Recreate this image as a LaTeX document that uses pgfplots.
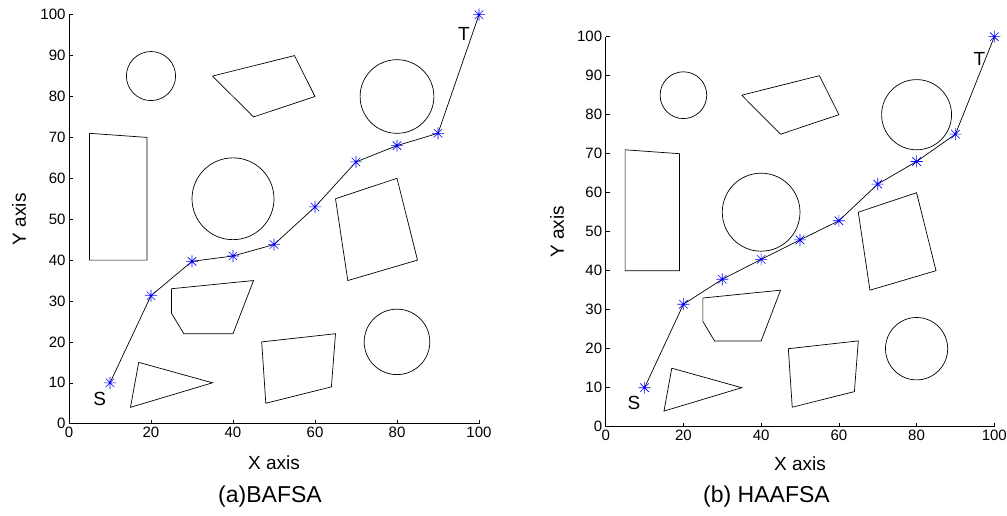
\documentclass[border=0pt]{standalone}
\usepackage{fontspec}
\setmainfont{Liberation Sans}
\usepackage{pgfplots}
\pgfplotsset{compat=1.18}
\pgfdeclareplotmark{mstar}{%
  \pgfpathmoveto{\pgfqpoint{-\pgfplotmarksize}{0pt}}%
  \pgfpathlineto{\pgfqpoint{\pgfplotmarksize}{0pt}}%
  \pgfpathmoveto{\pgfqpoint{0pt}{-\pgfplotmarksize}}%
  \pgfpathlineto{\pgfqpoint{0pt}{\pgfplotmarksize}}%
  \pgfpathmoveto{\pgfqpoint{-0.707\pgfplotmarksize}{-0.707\pgfplotmarksize}}%
  \pgfpathlineto{\pgfqpoint{0.707\pgfplotmarksize}{0.707\pgfplotmarksize}}%
  \pgfpathmoveto{\pgfqpoint{-0.707\pgfplotmarksize}{0.707\pgfplotmarksize}}%
  \pgfpathlineto{\pgfqpoint{0.707\pgfplotmarksize}{-0.707\pgfplotmarksize}}%
  \pgfusepathqstroke}
\pgfplotsset{
  mapax/.style={
    scale only axis,
    xmin=0, xmax=100, ymin=0, ymax=100,
    axis x line=bottom, axis y line=left,
    axis line style={-, line width=0.8pt},
    tick align=inside,
    major tick length=4pt,
    tick style={line width=0.6pt, black},
    xtick={0,20,...,100}, ytick={0,10,...,100},
    /pgf/number format/assume math mode=true,
    ticklabel style={font=\fontsize{15}{17}\selectfont},
    label style={font=\fontsize{19}{22}\selectfont},
    xlabel={X axis}, ylabel={Y axis},
    clip=false,
  },
  obst/.style={black, line width=0.7pt, no markers},
  pathst/.style={black, line width=0.7pt, mark=mstar, mark options={blue, mark size=6pt, line width=0.6pt}},
}
\newcommand{\obstacles}{%
  \addplot[obst] coordinates {(35,85) (55,90) (60,80) (45,75) (35,85)};
  \addplot[obst] coordinates {(5,71) (19,70) (19,40) (5,40) (5,71)};
  \addplot[obst] coordinates {(65,55) (80,60) (85,40) (68,35) (65,55)};
  \addplot[obst] coordinates {(25,33) (45,35) (40,22) (28,22) (25,27) (25,33)};
  \addplot[obst] coordinates {(47,20) (65,22) (64,9) (48,5) (47,20)};
  \addplot[obst] coordinates {(17,15) (35,10) (15,4) (17,15)};
  \draw[line width=0.7pt] (axis cs:20,85) circle[radius=6];
  \draw[line width=0.7pt] (axis cs:80,80) circle[radius=9];
  \draw[line width=0.7pt] (axis cs:40,55) circle[radius=10];
  \draw[line width=0.7pt] (axis cs:80,20) circle[radius=8];
}
\begin{document}
\begin{tikzpicture}[x=1pt,y=1pt]
\path[use as bounding box] (0,0) rectangle (1007,515);
\begin{axis}[mapax, width=410pt, height=409pt, at={(69pt,91.3pt)}, anchor=south west,
  xlabel style={at={(axis description cs:0.5,-0.096)}, anchor=center},
  ylabel style={at={(axis description cs:-0.122,0.5)}, anchor=center}]
\obstacles
\addplot[pathst] coordinates {(10,10) (20,31.3) (30,39.7) (40,41) (50,43.8) (60,53) (70,64) (80,68) (90,71) (100,100)};
\node[font=\fontsize{19}{22}\selectfont] at (axis cs:7.5,6) {S};
\node[font=\fontsize{19}{22}\selectfont] at (axis cs:96.3,95.3) {T};
\end{axis}
\begin{axis}[mapax, width=388.6pt, height=390pt, at={(605.7pt,88.3pt)}, anchor=south west,
  xlabel style={at={(axis description cs:0.5,-0.094)}, anchor=center},
  ylabel style={at={(axis description cs:-0.125,0.5)}, anchor=center}]
\obstacles
\addplot[pathst] coordinates {(10,10) (20,31.4) (30,37.8) (40,42.9) (50,47.9) (60,52.8) (70,62.2) (80,68) (90,75) (100,100)};
\node[font=\fontsize{19}{22}\selectfont] at (axis cs:7.3,6) {S};
\node[font=\fontsize{19}{22}\selectfont] at (axis cs:96.2,94.2) {T};
\end{axis}
\node[font=\fontsize{23}{26}\selectfont] at (270,18) {(a)BAFSA};
\node[font=\fontsize{23}{26}\selectfont] at (766.5,18) {(b) HAAFSA};
\end{tikzpicture}
\end{document}
